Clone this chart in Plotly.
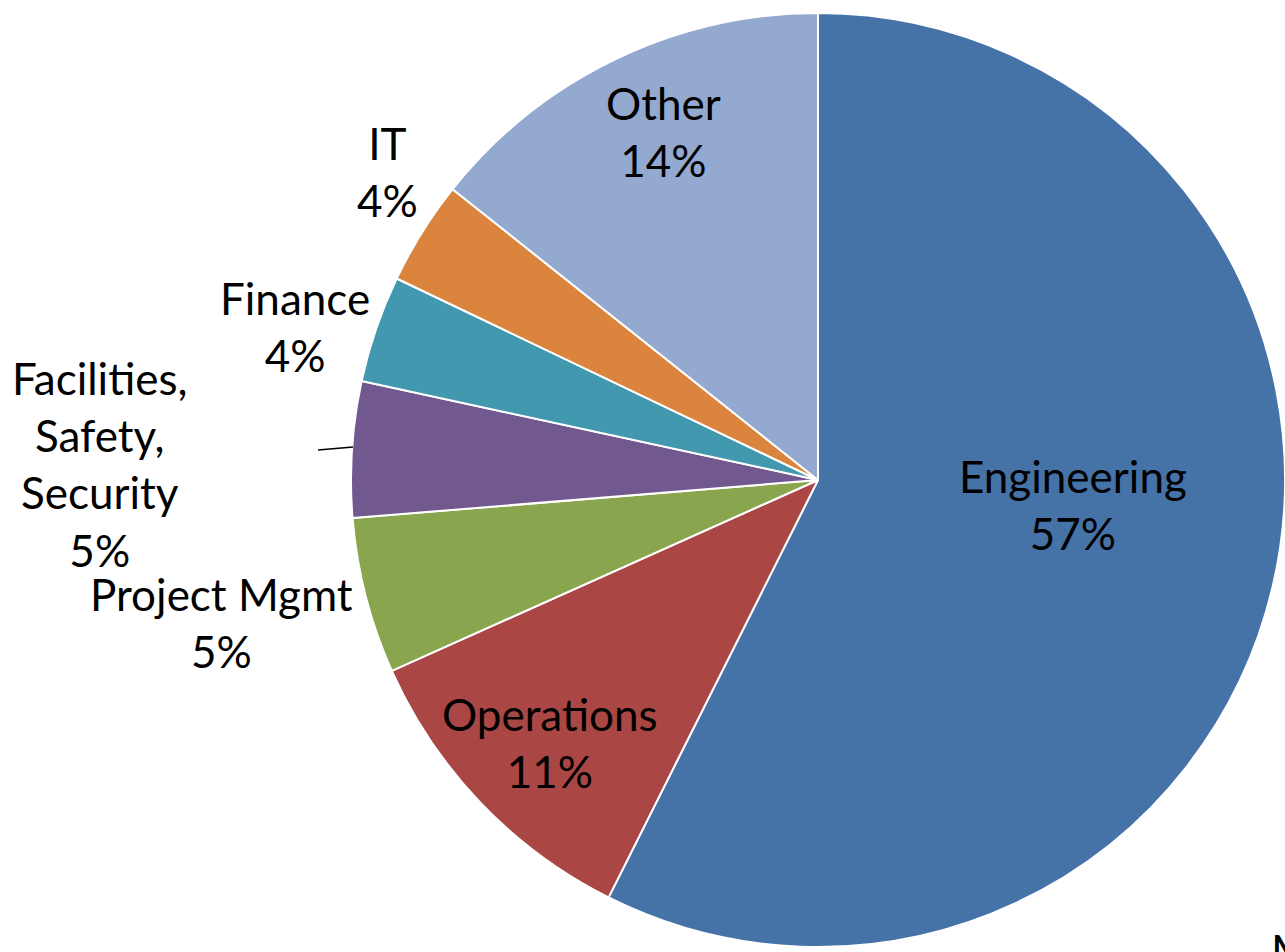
import plotly.graph_objects as go

W, H = 1285, 952

categories = ["Engineering", "Operations", "Project Mgmt", "Facilities, Safety, Security",
              "Finance", "IT", "Other"]
values = [57.4, 10.9, 5.4, 4.7, 3.7, 3.6, 14.3]
colors = ["#4572A7", "#AA4643", "#89A54E", "#71588F", "#4198AF", "#DB843D", "#93A9CF"]

# label block centres in pixels (styling)
label_pos = {
    "Engineering": (1073, 504),
    "Operations": (550, 742),
    "Project Mgmt": (221, 622),
    "Facilities, Safety, Security": (100, 464),
    "Finance": (295, 326),
    "IT": (387, 171),
    "Other": (663, 132),
}

FONT = "Lato, Calibri, Carlito, sans-serif"
FS = 44

cx, cy, r = 818, 480, 467

fig = go.Figure(go.Pie(
    labels=categories,
    values=values,
    sort=False,
    direction="clockwise",
    rotation=0,
    marker=dict(colors=colors, line=dict(color="white", width=2)),
    textinfo="none",
    hoverinfo="label+percent",
    domain=dict(x=[(cx - r) / W, min(1, (cx + r) / W)], y=[1 - (cy + r) / H, 1 - (cy - r) / H]),
    showlegend=False,
))

total = sum(values)
annotations = []
for cat, v in zip(categories, values):
    px, py = label_pos[cat]
    txt = cat.replace(", ", ",<br>") + "<br>" + f"{round(100 * v / total)}%"
    annotations.append(dict(
        x=px / W, y=1 - py / H, xref="paper", yref="paper",
        text=txt, showarrow=False, xanchor="center", yanchor="middle",
        align="center", font=dict(family=FONT, size=FS, color="black"),
    ))

# cut-off text fragment at bottom right
annotations.append(dict(
    x=1269 / W, y=1 - 950 / H, xref="paper", yref="paper", text="M",
    showarrow=False, xanchor="left", yanchor="middle",
    font=dict(family=FONT, size=FS, color="black"),
))

# leader line for Facilities label
shapes = [dict(type="line", xref="paper", yref="paper",
               x0=318 / W, y0=1 - 450 / H, x1=353 / W, y1=1 - 447 / H,
               line=dict(color="black", width=1.5))]

fig.update_layout(
    width=W, height=H,
    margin=dict(l=0, r=0, t=0, b=0),
    paper_bgcolor="white", plot_bgcolor="white",
    annotations=annotations, shapes=shapes,
)

fig.write_html("out.html")
